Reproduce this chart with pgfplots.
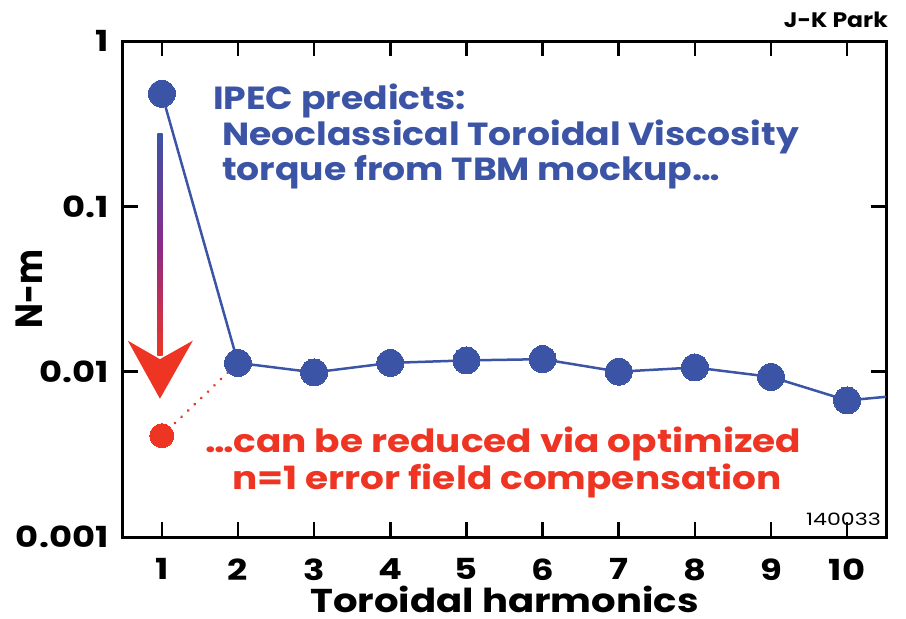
\documentclass[border=0pt]{standalone}
\usepackage{fontspec}
\setmainfont{Poppins}
\usepackage{graphicx}
\usepackage{pgfplots}
\pgfplotsset{compat=1.18}
\definecolor{bl}{HTML}{3B54A5}
\definecolor{rd}{HTML}{EE3524}
\definecolor{pu}{HTML}{8A2A8A}
\newcommand\wx[1]{\scalebox{1.22}[1]{#1}}
\newcommand\wt[1]{\scalebox{1.13}[1]{#1}}
\newcommand\wred[1]{\scalebox{1.17}[1]{#1}}
\begin{document}
\begin{tikzpicture}
\useasboundingbox (0pt,0pt) rectangle (906pt,619pt);
\begin{axis}[
  at={(123pt,82pt)}, anchor=south west,
  scale only axis, width=763pt, height=496pt,
  xmin=0.49, xmax=10.51,
  ymode=log, ymin=0.001, ymax=1,
  xtick={1,...,10},
  xticklabels={\wx{1},\wx{2},\wx{3},\wx{4},\wx{5},\wx{6},\wx{7},\wx{8},\wx{9},\wx{10}},
  ytick={0.001,0.01,0.1,1},
  yticklabels={\wx{0.001},\wx{0.01},\wx{0.1},\wx{1}},
  minor y tick num=0,
  minor tick length=0pt,
  tick align=inside,
  major tick length=15pt,
  axis line style={line width=3pt},
  every tick/.style={line width=2.5pt, black},
  tick label style={font=\fontsize{29}{31}\selectfont\bfseries},
  /pgf/number format/assume math mode=true,
  xticklabel style={yshift=-18pt},
  yticklabel style={xshift=-11pt},
  xlabel={\scalebox{1.17}[1]{Toroidal harmonics}},
  ylabel={\scalebox{1}[1.15]{N-m}},
  label style={font=\fontsize{33}{35}\selectfont\bfseries},
  xlabel style={yshift=1pt},
  ylabel style={yshift=-33pt},
  clip=true,
]
% dotted link from reduced point
\addplot[rd, line width=3pt, dash pattern=on 0.1pt off 9pt, line cap=round] coordinates {(1,0.0041) (2,0.0113)};
% gradient arrow
\shade[top color=bl, bottom color=rd, middle color=pu] (axis cs:0.94,0.277) rectangle (axis cs:1.01,0.0125);
\fill[rd] (axis cs:0.553,0.0154) -- (axis cs:0.975,0.0119) -- (axis cs:1.407,0.0154) -- (axis cs:0.975,0.00686) -- cycle;
% IPEC series
\addplot[bl, line width=2.5pt, mark=*, mark size=13.5pt, mark options={line width=0pt, fill=bl}]
 coordinates {(1,0.48) (2,0.0113) (3,0.0099) (4,0.0113) (5,0.0117) (6,0.0119) (7,0.0100) (8,0.0106) (9,0.0093) (10,0.0067) (11,0.0074)};
% reduced point
\addplot[only marks, mark=*, mark size=12pt, mark options={line width=0pt, fill=rd, draw=rd}] coordinates {(1,0.0041)};
\end{axis}
\begin{scope}[every node/.style={anchor=base west, inner sep=0, font=\fontsize{32}{34}\selectfont\bfseries}]
\node[text=bl] at (213pt,509pt) {\wt{IPEC predicts:}};
\node[text=bl] at (222pt,473pt) {\wt{Neoclassical Toroidal Viscosity}};
\node[text=bl] at (222pt,438pt) {\wt{torque from TBM mockup…}};
\node[text=rd] at (205pt,166pt) {\wred{…can be reduced via optimized}};
\node[text=rd] at (232pt,129pt) {\wred{n=1 error field compensation}};
\end{scope}
\node[anchor=base east, font=\fontsize{21}{23}\selectfont\bfseries, inner sep=0] at (888pt,591pt) {\scalebox{1.12}[1]{J-K Park}};
\node[anchor=base east, font=\fontsize{17}{19}\selectfont, inner sep=0] at (881pt,93pt) {\scalebox{1.3}[1]{140033}};
\end{tikzpicture}
\end{document}
